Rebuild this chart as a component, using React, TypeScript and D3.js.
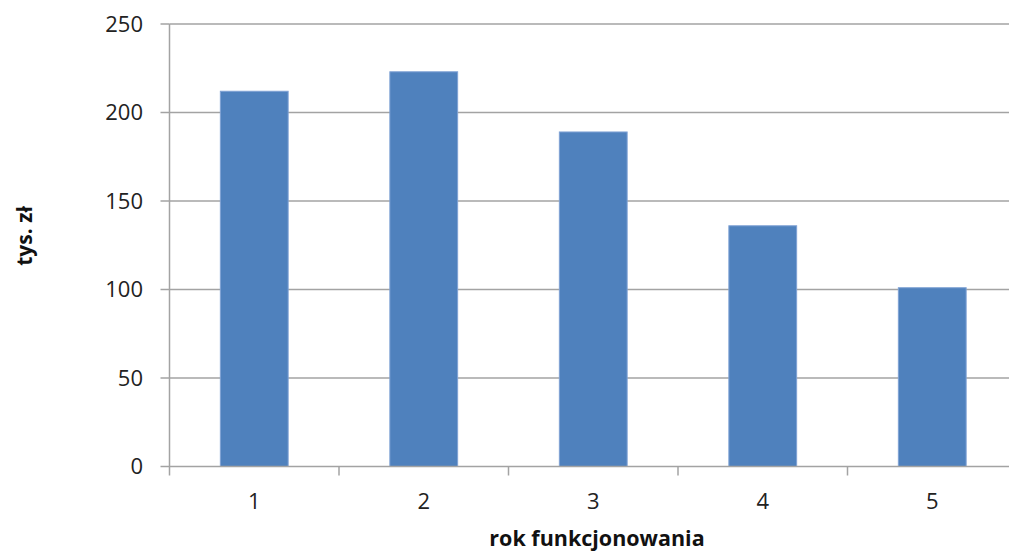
import React from "react";
import * as d3 from "d3";

const categories = ["1", "2", "3", "4", "5"];
const values = [212, 223, 189, 136, 101];
const yTicks = [0, 50, 100, 150, 200, 250];
const xTitle = "rok funkcjonowania";
const yTitle = "tys. zł";

const W = 1009;
const H = 553;
const left = 169.5;
const top = 24;
const bottom = 466.5;
const plotW = 847.5;

export default function App() {
  const x = d3
    .scaleBand<string>()
    .domain(categories)
    .range([left, left + plotW])
    .paddingInner(0.6)
    .paddingOuter(0.3);
  const y = d3.scaleLinear().domain([0, 250]).range([bottom, top]);
  const step = x.step();
  const font = "'Open Sans', sans-serif";
  const grid = "#a3a3a3";

  return (
    <svg
      width={W}
      height={H}
      style={{ position: "absolute", left: 0, top: 0, background: "#fff" }}
      fontFamily={font}
    >
      {yTicks.map((t) => (
        <g key={t}>
          {t > 0 && (
            <line x1={left} x2={W} y1={y(t)} y2={y(t)} stroke={grid} strokeWidth={1.5} />
          )}
          <line x1={left - 9} x2={left} y1={y(t)} y2={y(t)} stroke={grid} strokeWidth={1.5} />
          <text x={143} y={y(t)} dy="0.36em" textAnchor="end" fontSize={22} fill="#222">
            {t}
          </text>
        </g>
      ))}
      {categories.map((c, i) => (
        <rect
          key={c}
          x={x(c)!}
          y={y(values[i])}
          width={x.bandwidth()}
          height={y(0) - y(values[i])}
          fill="#4f81bd"
          stroke="#7fa2d4"
          strokeWidth={1}
        />
      ))}
      <line x1={left} x2={left} y1={top} y2={bottom + 9} stroke={grid} strokeWidth={1.5} />
      <line x1={left} x2={W} y1={bottom} y2={bottom} stroke={grid} strokeWidth={1.5} />
      {categories.map((c, i) => (
        <g key={"t" + c}>
          <line
            x1={left + step * (i + 1)}
            x2={left + step * (i + 1)}
            y1={bottom}
            y2={bottom + 9}
            stroke={grid}
            strokeWidth={1.5}
          />
          <text
            x={x(c)! + x.bandwidth() / 2}
            y={509}
            textAnchor="middle"
            fontSize={22}
            fill="#222"
          >
            {c}
          </text>
        </g>
      ))}
      <text
        x={597}
        y={546}
        textAnchor="middle"
        fontSize={21.5}
        fontWeight="bold"
        fill="#111"
      >
        {xTitle}
      </text>
      <text
        transform={`translate(32,236) rotate(-90)`}
        textAnchor="middle"
        fontSize={21}
        fontWeight="bold"
        fill="#111"
      >
        {yTitle}
      </text>
    </svg>
  );
}
